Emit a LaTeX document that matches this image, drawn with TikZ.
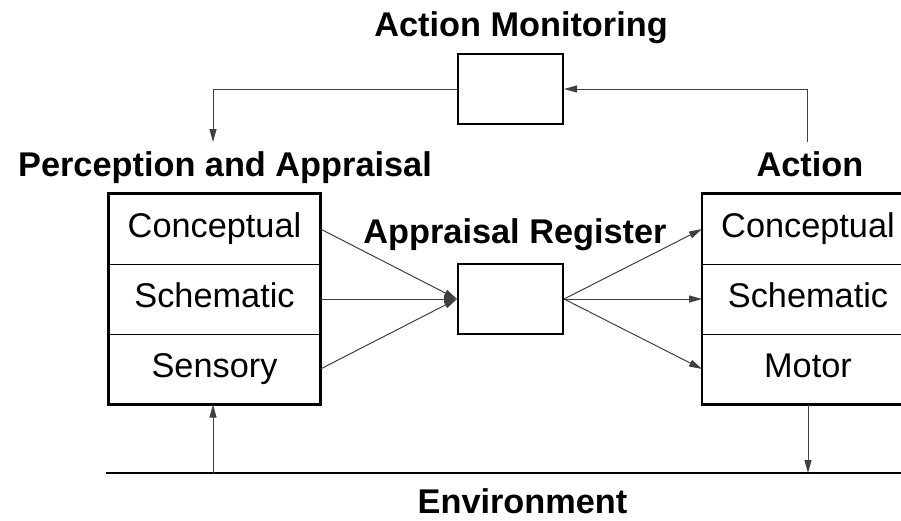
\documentclass[tikz,border=0pt]{standalone}
\usepackage{fontspec}
\setmainfont{Liberation Sans}
\usetikzlibrary{arrows.meta}
\begin{document}
\begin{tikzpicture}[x=1pt,y=-1pt,
  cell/.style={draw, line width=1pt, minimum width=211pt, minimum height=70pt,
    inner sep=0pt, font=\fontsize{34.3}{40}\selectfont, text height=24pt, text depth=7pt},
  frame/.style={line width=2.2pt},
  hub/.style={draw, line width=2pt, minimum width=105pt, minimum height=70pt, inner sep=0pt},
  title/.style={font=\bfseries\fontsize{34.3}{40}\selectfont, anchor=base, inner sep=0pt},
  link/.style={draw=black!75, line width=1pt, -{Triangle[length=13pt,width=7pt]}},
]
\useasboundingbox (0,0) rectangle (901,520);

% perception and appraisal stack
\node[cell] (pc) at (214.5,229) {Conceptual};
\node[cell] (ps) at (214.5,299) {Schematic};
\node[cell] (pn) at (214.5,369) {Sensory};
\draw[frame] (pc.north west) rectangle (pn.south east);

% action stack
\node[cell] (ac) at (808,229) {Conceptual};
\node[cell] (as) at (808,299) {Schematic};
\node[cell] (am) at (808,369) {Motor};
\draw[frame] (ac.north west) rectangle (am.south east);

% register and monitoring boxes
\node[hub] (reg) at (510.5,299) {};
\node[hub] (mon) at (510.5,89) {};

% headings
\node[title] (tmon) at (521,36.7) {Action Monitoring};
\node[title] (tper) at (225,176.7) {Perception and Appraisal};
\node[title] (tact) at (810,176) {Action};
\node[title] (treg) at (515,243.3) {Appraisal Register};
\node[title] (tenv) at (522.5,513) {Environment};

% monitoring loop
\coordinate (actout) at (807,142);
\coordinate (perin) at (213,142);
\draw[link] (actout) |- (mon.east);
\draw[link] (mon.west) -| (perin);

% appraisal flow
\foreach \c in {pc,ps,pn} \draw[link] (\c.east) -- (reg.west);
\foreach \c in {ac,as,am} \draw[link] (reg.east) -- (\c.west);

% environment
\coordinate (envL) at (106,473);
\coordinate (envR) at (910,473);
\draw[line width=2pt] (envL) -- (envR);
\coordinate (sense) at (213,473);
\draw[link] (sense) -- (sense |- pn.south);
\draw[link] (am.south) -- (am.south |- envL);
\end{tikzpicture}
\end{document}
